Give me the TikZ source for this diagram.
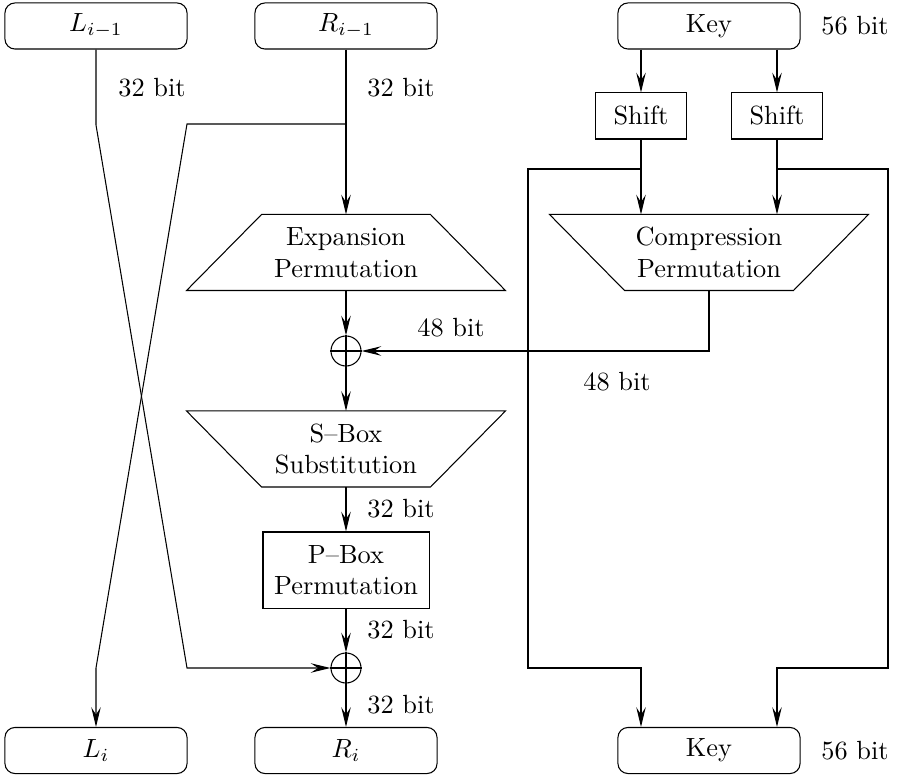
\documentclass[tikz,border=0pt]{standalone}
\usetikzlibrary{arrows.meta}
\begin{document}
\begin{tikzpicture}[x=0.38pt,y=-0.38pt,
  >={Stealth[length=7.5pt,width=3.6pt,inset=2.8pt]},
  rbox/.style={draw,rounded corners=3.8pt,minimum width=69.2pt,minimum height=17.5pt,inner sep=0pt},
  sbox/.style={draw,minimum width=34.6pt,minimum height=17.5pt,inner sep=0pt},
  pboxst/.style={draw,minimum width=63.1pt,minimum height=28.9pt,inner sep=0pt,align=center},
  trap/.style={minimum width=120.8pt,minimum height=28.5pt,inner sep=0pt,align=center},
  xorst/.style={draw,circle,minimum size=11.4pt,inner sep=0pt},
  lbl/.style={inner sep=0pt}]
\useasboundingbox (0,0) rectangle (898,776);

% top boxes
\node[rbox] (Lim) at (96,26) {$L_{i-1}$};
\node[rbox] (Rim) at (346,26) {$R_{i-1}$};
\node[rbox] (key) at (709,26) {Key};
\node[lbl] (k56a) at (855,26) {56 bit};

\node[lbl] (l32a) at (152,88) {32 bit};
\node[lbl] (l32b) at (401,88) {32 bit};

% shifts
\node[sbox] (sh1) at (641,116) {Shift};
\node[sbox] (sh2) at (777,116) {Shift};

% expansion
\node[trap] (exp) at (346,252.5) {Expansion\\Permutation};
\draw ([xshift=28.5pt]exp.north west) -- ([xshift=-28.5pt]exp.north east) -- (exp.south east) -- (exp.south west) -- cycle;

% compression
\node[trap] (comp) at (709,252.5) {Compression\\Permutation};
\draw (comp.north west) -- (comp.north east) -- ([xshift=-28.5pt]comp.south east) -- ([xshift=28.5pt]comp.south west) -- cycle;

% xor 1
\node[xorst] (x1) at (346,351) {};
\draw (x1.north) -- (x1.south) (x1.west) -- (x1.east);
\node[lbl] (l48a) at (451,328) {48 bit};
\node[lbl] (l48b) at (617,382) {48 bit};

% S-box
\node[trap] (sb) at (346,449) {S--Box\\Substitution};
\draw (sb.north west) -- (sb.north east) -- ([xshift=-28.5pt]sb.south east) -- ([xshift=28.5pt]sb.south west) -- cycle;
\node[lbl] (l32c) at (401,509) {32 bit};

% P-box
\node[pboxst] (pb) at (346,570) {P--Box\\Permutation};
\node[lbl] (l32d) at (401,630) {32 bit};

% xor 2
\node[xorst] (x2) at (346,668) {};
\draw (x2.north) -- (x2.south) (x2.west) -- (x2.east);
\node[lbl] (l32e) at (401,705) {32 bit};

% bottom boxes
\node[rbox] (Li) at (96,750.5) {$L_i$};
\node[rbox] (Ri) at (346,750.5) {$R_i$};
\node[rbox] (key2) at (709,750.5) {Key};
\node[lbl] (k56b) at (855,750.5) {56 bit};

% coordinates
\coordinate (a1) at (96,125);
\coordinate (a2) at (187,668);
\coordinate (c0) at (346,124);
\coordinate (c1) at (187,124);
\coordinate (c2) at (96,668);
\coordinate (b0) at (641,169);
\coordinate (b1) at (528,169);
\coordinate (b2) at (528,668);
\coordinate (b3) at (641,668);
\coordinate (d0) at (777,169);
\coordinate (d1) at (888,169);
\coordinate (d2) at (888,668);
\coordinate (d3) at (777,668);

% connectors left part
\draw[->] (Lim.south) -- (a1) -- (a2) -- (x2.west);
\draw[->] (Rim.south) -- (exp.north);
\draw[->] (c0) -- (c1) -- (c2) -- (Li.north);
\draw[->] (exp.south) -- (x1.north);
\draw[->] (x1.south) -- (sb.north);
\draw[->] (sb.south) -- (pb.north);
\draw[->] (pb.south) -- (x2.north);
\draw[->] (x2.south) -- (Ri.north);

% key part
\draw[->] (key.south -| sh1) -- (sh1.north);
\draw[->] (key.south -| sh2) -- (sh2.north);
\draw[->] (sh1.south) -- (sh1.south |- comp.north);
\draw[->] (sh2.south) -- (sh2.south |- comp.north);
\draw[->] (b0) -- (b1) -- (b2) -- (b3) -- (key2.north -| b3);
\draw[->] (d0) -- (d1) -- (d2) -- (d3) -- (key2.north -| d3);
\draw[->] (comp.south) |- (x1.east);
\end{tikzpicture}
\end{document}
